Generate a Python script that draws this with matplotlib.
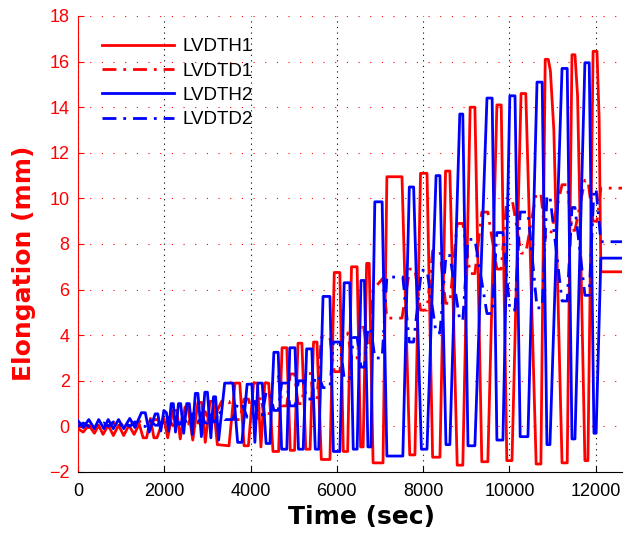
import numpy as np
import matplotlib
matplotlib.use("Agg")
import matplotlib.pyplot as plt

# LVDTH1 (red, solid) - turning points
h1_time = [0, 120, 250, 380, 480, 580, 700, 820, 940, 1060, 1180, 1300, 1420, 1510, 1590, 1680,
           1760, 1830, 1990, 2080, 2200, 2290, 2370, 2480, 2550, 2660, 2780, 2870, 2950, 3060,
           3130, 3230, 3500, 3640, 3750, 3850, 3950, 4070, 4160, 4240, 4330, 4420, 4520, 4650,
           4730, 4840, 4920, 5020, 5100, 5190, 5280, 5380, 5460, 5540, 5640, 5840, 5940, 6070,
           6150, 6250, 6340, 6470, 6550, 6610, 6690, 6750, 6840, 7070, 7160, 7510, 7690, 7810,
           7940, 8090, 8220, 8390, 8520, 8620, 8790, 8920, 9090, 9200, 9360, 9500, 9710, 9810,
           9940, 10060, 10270, 10380, 10620, 10730, 10830, 10900, 10950, 11030, 11220, 11340,
           11450, 11520, 11580, 11750, 11820, 11940, 12030, 12080, 12120, 12610]
h1_val = [-0.1, -0.25, 0.05, -0.3, 0.05, -0.35, 0.05, -0.4, 0.05, -0.4, 0.05, -0.35, 0.1, -0.5, -0.5, 0.35,
          -0.5, -0.5, 0.35, -0.5, 0.7, 0.7, -0.55, 0.85, 0.85, -0.6, 1.05, 1.05, -0.7, 1.1,
          1.1, -0.8, -0.85, 1.9, 1.9, -0.85, -0.85, 1.9, 1.9, -0.9, 1.9, 1.9, -1.1, -1.1,
          3.45, 3.45, -1.05, -1.05, 3.65, 3.65, -1.0, -1.0, 3.7, 3.7, -1.45, -1.45, 6.75, 6.75,
          -1.1, -1.1, 7.0, 7.0, -0.9, -0.9, 7.15, 7.15, -1.6, -1.6, 10.95, 10.95, -1.25, -1.25,
          11.1, 11.1, -1.35, -1.35, 11.2, 11.2, -1.7, -1.7, 14.0, 14.0, -1.55, -1.55, 14.1, 14.1,
          -1.5, -1.5, 14.6, 14.6, -1.65, -1.65, 16.1, 16.1, 15.6, 13.0, -1.6, -1.6,
          16.3, 16.3, 14.5, -1.5, -1.5, 16.45, 16.45, 13.5, 6.78, 6.78]

# LVDTD1 (red, dash-dot)
d1_time = [0, 250, 380, 480, 600, 700, 820, 940, 1060, 1180, 1300, 1510, 1590, 1680, 1760, 1830,
           1990, 2080, 2200, 2290, 2370, 2480, 2550, 2660, 2780, 2870, 2950, 3060, 3130, 3230,
           3330, 3500, 3640, 3750, 3850, 3950, 4070, 4160, 4230, 4330, 4420, 4520, 4650, 4730,
           4840, 4920, 5020, 5100, 5190, 5280, 5380, 5460, 5540, 5640, 5840, 5940, 6070, 6150,
           6250, 6340, 6470, 6550, 6610, 6690, 6750, 6840, 7070, 7160, 7510, 7690, 7810, 7940,
           8090, 8220, 8390, 8520, 8620, 8790, 8920, 9090, 9200, 9360, 9500, 9710, 9810, 9940,
           10060, 10270, 10380, 10620, 10730, 10830, 10940, 11220, 11340, 11450, 11520, 11750,
           11820, 11940, 12030, 12120, 12610]
d1_val = [0.0, -0.05, 0.1, -0.05, 0.1, -0.05, 0.15, -0.05, 0.15, 0.0, 0.15, 0.25, 0.25, -0.05, 0.3, 0.3,
          0.0, 0.35, 0.05, 0.05, 0.45, 0.1, 0.1, 0.55, 0.15, 0.15, 0.65, 0.2, 0.2, 0.7,
          1.1, 1.1, 0.3, 0.3, 1.2, 1.2, 0.35, 0.35, 1.3, 0.4, 0.4, 2.0, 2.2, 0.9,
          0.9, 2.3, 2.3, 1.0, 1.0, 2.4, 2.4, 1.2, 1.2, 3.9, 3.9, 2.4, 2.4, 4.1,
          4.1, 3.0, 3.0, 4.5, 4.5, 3.4, 3.4, 6.0, 6.5, 4.75, 4.75, 6.9, 6.9, 5.1,
          5.1, 7.7, 7.7, 5.4, 5.4, 8.9, 8.9, 6.7, 6.7, 9.4, 9.4, 6.9, 6.9, 10.0,
          10.0, 7.6, 7.6, 10.2, 10.2, 8.3, 8.3, 10.6, 10.6, 8.6, 8.6, 10.8,
          10.8, 9.0, 9.0, 10.45, 10.45]

# LVDTH2 (blue, solid)
h2_time = [0, 120, 250, 380, 480, 600, 700, 820, 940, 1060, 1200, 1320, 1470, 1560, 1650, 1790,
           1850, 1920, 1990, 2050, 2100, 2160, 2210, 2260, 2330, 2380, 2450, 2520, 2580, 2650,
           2720, 2780, 2860, 2940, 3000, 3080, 3140, 3190, 3260, 3400, 3590, 3700, 3800, 3920,
           4030, 4100, 4170, 4270, 4360, 4450, 4540, 4640, 4720, 4840, 4910, 5030, 5110, 5220,
           5300, 5420, 5500, 5580, 5680, 5840, 5920, 6070, 6170, 6300, 6380, 6470, 6560, 6640,
           6720, 6790, 6880, 7050, 7160, 7530, 7680, 7780, 7960, 8090, 8300, 8390, 8530, 8620,
           8850, 8920, 9040, 9200, 9480, 9600, 9710, 9850, 10010, 10130, 10250, 10430, 10640,
           10760, 10870, 10940, 11220, 11340, 11450, 11520, 11750, 11850, 11960, 12010, 12120, 12610]
h2_val = [0.25, -0.05, 0.3, -0.1, 0.3, -0.1, 0.3, -0.1, 0.3, -0.1, 0.35, -0.05, 0.6, 0.6, -0.25, 0.55,
          0.55, -0.2, 0.7, 0.6, -0.2, 1.0, 1.0, -0.25, 1.0, 1.0, -0.3, 1.0, 1.0, -0.35,
          1.45, 1.45, -0.45, 1.5, 1.5, -0.5, 1.3, 1.3, -0.6, 1.9, 1.9, -0.7, -0.7, 1.85,
          1.85, -0.7, 1.9, 1.9, -0.75, -0.75, 3.25, 3.25, -1.0, -1.0, 3.45, 3.45, -1.0, -1.0,
          3.4, 3.4, -1.0, -1.0, 5.7, 5.7, -1.1, -1.1, 6.3, 6.3, -1.0, -1.0, 6.4, 6.4,
          -0.9, -0.9, 9.85, 9.85, -1.3, -1.3, 10.5, 10.5, -1.0, -1.0, 11.0, 11.0, -0.8, -0.8,
          13.7, 13.7, -0.85, -0.85, 14.4, 14.4, -0.6, -0.6, 14.5, 14.5, -0.45, -0.45, 15.1,
          15.1, -0.8, -0.8, 15.7, 15.7, -0.55, -0.55, 15.95, 15.95, -0.3, -0.3, 7.38, 7.38]

# LVDTD2 (blue, dash-dot)
d2_time = [0, 120, 250, 380, 480, 600, 700, 820, 940, 1060, 1200, 1320, 1470, 1560, 1650, 1790,
           1850, 1920, 1990, 2050, 2100, 2160, 2210, 2260, 2330, 2380, 2450, 2520, 2580, 2650,
           2720, 2780, 2860, 2940, 3000, 3080, 3140, 3190, 3260, 3400, 3590, 3700, 3800, 3920,
           4030, 4100, 4170, 4270, 4360, 4450, 4540, 4640, 4720, 4840, 4910, 5030, 5110, 5220,
           5300, 5420, 5500, 5580, 5680, 5840, 5920, 6070, 6170, 6300, 6380, 6470, 6560, 6640,
           6720, 6790, 6880, 7050, 7160, 7530, 7680, 7780, 7960, 8090, 8300, 8390, 8530, 8620,
           8850, 8920, 9040, 9200, 9480, 9600, 9710, 9850, 10010, 10130, 10250, 10430, 10640,
           10760, 10870, 10940, 11220, 11340, 11450, 11520, 11750, 11850, 11960, 12010, 12120, 12610]
d2_val = [0.0, 0.15, 0.0, 0.15, 0.0, 0.15, 0.0, 0.2, 0.0, 0.2, 0.0, 0.2, 0.0, 0.0, 0.3, 0.05,
          0.05, 0.35, 0.05, 0.05, 0.4, 0.1, 0.1, 0.5, 0.1, 0.1, 0.5, 0.1, 0.1, 0.55,
          0.15, 0.15, 0.6, 0.15, 0.15, 0.65, 0.2, 0.2, 0.7, 0.3, 0.3, 1.0, 1.0, 0.4,
          0.4, 1.1, 0.5, 0.5, 1.5, 1.5, 0.7, 0.7, 1.9, 1.9, 0.9, 0.9, 2.0, 2.0,
          1.2, 1.2, 2.2, 2.2, 1.7, 1.7, 3.7, 3.7, 2.1, 2.1, 3.9, 3.9, 2.6, 2.6,
          4.3, 4.3, 3.0, 3.0, 6.55, 6.55, 3.7, 3.7, 6.85, 6.85, 4.1, 4.1, 7.5, 7.5,
          4.65, 4.65, 8.2, 8.2, 4.95, 4.95, 8.5, 8.5, 5.1, 5.1, 9.4, 9.4, 5.2,
          5.2, 10.1, 10.1, 5.5, 5.5, 9.6, 9.6, 5.75, 5.75, 10.4, 10.4, 8.1, 8.1]

x_ticks = [0, 2000, 4000, 6000, 8000, 10000, 12000]
y_ticks = [-2, 0, 2, 4, 6, 8, 10, 12, 14, 16, 18]

plt.rcParams['font.family'] = ['Liberation Sans', 'DejaVu Sans']

def make_plot():
    fig = plt.figure(figsize=(6.28, 5.38), dpi=100)
    ax = fig.add_axes([78 / 628, (538 - 472) / 538, 544 / 628, 456 / 538])

    dashdot = (0, (5, 2.5, 1, 2.5))
    ax.plot(h1_time, h1_val, color=(1, 0, 0), lw=2, label="LVDTH1", zorder=3)
    ax.plot(d1_time, d1_val, color=(1, 0, 0), lw=2, ls=dashdot, label="LVDTD1", zorder=3)
    ax.plot(h2_time, h2_val, color=(0, 0, 1), lw=2, label="LVDTH2", zorder=4)
    ax.plot(d2_time, d2_val, color=(0, 0, 1), lw=2, ls=dashdot, label="LVDTD2", zorder=4)

    ax.set_xlim(0, 12610)
    ax.set_ylim(-2, 18)
    ax.set_xticks(x_ticks)
    ax.set_yticks(y_ticks)

    # grid: red dotted horizontal, black dotted vertical
    ax.yaxis.grid(True, color='red', linestyle=(0, (1, 9.5)), linewidth=0.8)
    ax.xaxis.grid(True, color='black', linestyle=(0, (1, 4)), linewidth=0.8)

    ax.spines['top'].set_visible(False)
    ax.spines['right'].set_visible(False)
    ax.spines['left'].set_color('red')
    ax.spines['bottom'].set_color('black')

    ax.tick_params(axis='y', direction='in', length=4, colors='red', labelsize=13, pad=6)
    ax.tick_params(axis='x', direction='in', length=4, colors='black', labelsize=13, pad=8)

    # axis labels are wide bold text in the reference
    ax.set_xlabel("Time (sec)", fontsize=18, fontweight='bold', family='DejaVu Sans')
    ax.xaxis.set_label_coords((362 - 78) / 544, -(517 - 472) / 456)
    ax.set_ylabel("Elongation (mm)", fontsize=18, fontweight='bold', color='red',
                  family='DejaVu Sans')
    ax.yaxis.set_label_coords(-(78 - 24) / 544, (472 - 263) / 456)
    ax.xaxis.label.set_va('center')
    ax.yaxis.label.set_va('center')

    ax.legend(loc='upper left', bbox_to_anchor=(0.045, 0.951), frameon=False,
              fontsize=13.5, handlelength=3.8, handletextpad=0.45, labelspacing=0.38,
              borderpad=0, borderaxespad=0)

    fig.savefig("out.png", dpi=100)

if __name__ == "__main__":
    make_plot()
